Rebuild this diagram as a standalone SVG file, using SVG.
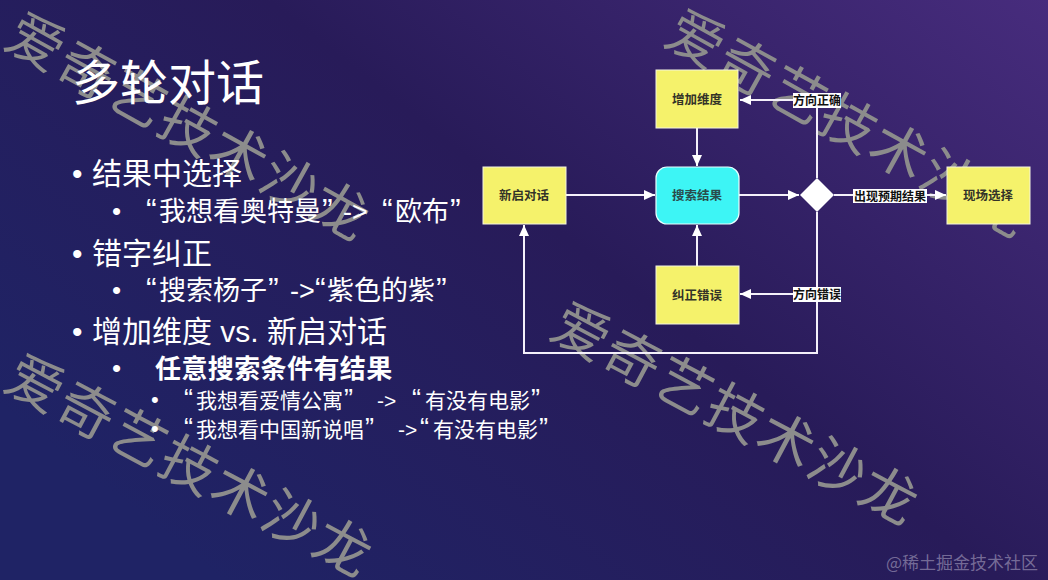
<svg xmlns="http://www.w3.org/2000/svg" width="1048" height="580" viewBox="0 0 1048 580">
<defs>
<linearGradient id="bg" x1="0" y1="0.7" x2="1" y2="0">
<stop offset="0" stop-color="#1f2365"/>
<stop offset="0.5" stop-color="#281b59"/>
<stop offset="1" stop-color="#472c7d"/>
</linearGradient>
<marker id="ah" markerUnits="userSpaceOnUse" markerWidth="11" markerHeight="10" refX="11" refY="5" orient="auto">
<path d="M0,0 L11,5 L0,10 z" fill="#ffffff"/>
</marker>
<style>
.wm{font-family:"Noto Sans CJK SC",sans-serif;font-size:56px;fill:#8c8c8c;text-anchor:middle;letter-spacing:2px}
.t{font-family:"Liberation Sans","Noto Sans CJK SC",sans-serif;fill:#ffffff}
.q{font-size:32px}
.q2{font-size:27px}
.yb{fill:#f5f26b;stroke:#f4f4e0;stroke-width:1}
.bt{font-family:"Noto Sans CJK SC",sans-serif;font-weight:bold;font-size:12.5px;fill:#333328;text-anchor:middle}
.ln{fill:none;stroke:#f4f0fa;stroke-width:2}
.lb{font-family:"Noto Sans CJK SC",sans-serif;font-weight:bold;font-size:12px;fill:#111;text-anchor:middle}
</style>
</defs>
<rect width="1048" height="580" fill="url(#bg)"/>

<g id="watermarks">
<text class="wm" transform="translate(189,127) rotate(29)" x="0" y="20">爱奇艺技术沙龙</text>
<text class="wm" transform="translate(849,124) rotate(29)" x="0" y="20">爱奇艺技术沙龙</text>
<text class="wm" transform="translate(736,414) rotate(28)" x="0" y="20">爱奇艺技术沙龙</text>
<text class="wm" transform="translate(190,466) rotate(28)" x="0" y="20">爱奇艺技术沙龙</text>
</g>

<g id="slide-text">
<text class="t" x="72" y="100" font-size="48">多轮对话</text>
<text class="t" x="72" y="184" font-size="30">•</text>
<text class="t" x="92" y="184" font-size="30">结果中选择</text>
<text class="t" x="112" y="220" font-size="26">•</text>
<text class="t" y="221" font-size="27"><tspan class="q" x="146">“</tspan><tspan x="159">我想看奥特曼</tspan><tspan class="q" x="322">”</tspan><tspan x="343">-&gt;</tspan><tspan class="q" x="382">“</tspan><tspan x="395">欧布</tspan><tspan class="q" x="450">”</tspan></text>
<text class="t" x="72" y="264" font-size="30">•</text>
<text class="t" x="92" y="264" font-size="30">错字纠正</text>
<text class="t" x="112" y="299" font-size="26">•</text>
<text class="t" y="300" font-size="27"><tspan class="q" x="146">“</tspan><tspan x="159">搜索杨子</tspan><tspan class="q" x="268">”</tspan><tspan x="290">-&gt;</tspan><tspan class="q" x="315">“</tspan><tspan x="327">紫色的紫</tspan><tspan class="q" x="436">”</tspan></text>
<text class="t" x="72" y="342" font-size="30">•</text>
<text class="t" x="92" y="342" font-size="30">增加维度 vs. 新启对话</text>
<text class="t" x="112" y="377" font-size="26">•</text>
<text class="t" x="155" y="378" font-size="26" font-weight="bold" letter-spacing="0.4">任意搜索条件有结果</text>
<text class="t" x="151" y="407" font-size="22">•</text>
<text class="t" y="408" font-size="21"><tspan class="q2" x="184">“</tspan><tspan x="196">我想看爱情公寓</tspan><tspan class="q2" x="344">”</tspan><tspan x="377">-&gt;</tspan><tspan class="q2" x="412">“</tspan><tspan x="425">有没有电影</tspan><tspan class="q2" x="531">”</tspan></text>
<text class="t" x="151" y="436" font-size="22">•</text>
<text class="t" y="437" font-size="21"><tspan class="q2" x="184">“</tspan><tspan x="196">我想看中国新说唱</tspan><tspan class="q2" x="365">”</tspan><tspan x="398">-&gt;</tspan><tspan class="q2" x="420">“</tspan><tspan x="433">有没有电影</tspan><tspan class="q2" x="539">”</tspan></text>
</g>

<g id="connectors">
<line class="ln" x1="566" y1="195" x2="655" y2="195" marker-end="url(#ah)"/>
<line class="ln" x1="697" y1="128" x2="697" y2="166" marker-end="url(#ah)"/>
<line class="ln" x1="697" y1="266" x2="697" y2="225" marker-end="url(#ah)"/>
<line class="ln" x1="739" y1="195" x2="799" y2="195" marker-end="url(#ah)"/>
<line class="ln" x1="834" y1="195" x2="946" y2="195" marker-end="url(#ah)"/>
<polyline class="ln" points="817,100 817,178"/>
<line class="ln" x1="817" y1="100" x2="740" y2="100" marker-end="url(#ah)"/>
<polyline class="ln" points="817,212 817,353 524,353 524,225" marker-end="url(#ah)"/>
<line class="ln" x1="817" y1="294" x2="740" y2="294" marker-end="url(#ah)"/>
<rect x="793" y="93" width="48" height="15" fill="#ffffff"/>
<text class="lb" x="817" y="105">方向正确</text>
<rect x="793" y="287" width="48" height="15" fill="#ffffff"/>
<text class="lb" x="817" y="299">方向错误</text>
<rect x="853" y="189" width="74" height="14" fill="#ffffff"/>
<text class="lb" x="890" y="200.5">出现预期结果</text>
</g>

<g id="node-add">
<rect class="yb" x="656" y="70" width="82" height="58"/>
<text class="bt" x="697" y="103.5">增加维度</text>
</g>
<g id="node-search">
<rect x="656" y="167" width="83" height="57" rx="11" fill="#3df5f5" stroke="#e8ffff" stroke-width="1.2"/>
<text class="bt" x="697" y="200" style="fill:#2a4c4c">搜索结果</text>
</g>
<g id="node-fix">
<rect class="yb" x="656" y="266" width="83" height="58"/>
<text class="bt" x="697" y="299.5">纠正错误</text>
</g>
<g id="node-new">
<rect class="yb" x="483" y="167" width="83" height="57"/>
<text class="bt" x="524" y="200">新启对话</text>
</g>
<g id="node-select">
<rect class="yb" x="947" y="167" width="83" height="57"/>
<text class="bt" x="988" y="200">现场选择</text>
</g>
<g id="node-decision">
<polygon points="817,178 834,195 817,212 800,195" fill="#ffffff"/>
</g>

<text x="1038" y="569" font-family="Noto Sans CJK SC,sans-serif" font-size="17" fill="#b8b0cc" fill-opacity="0.55" text-anchor="end">@稀土掘金技术社区</text>
</svg>
